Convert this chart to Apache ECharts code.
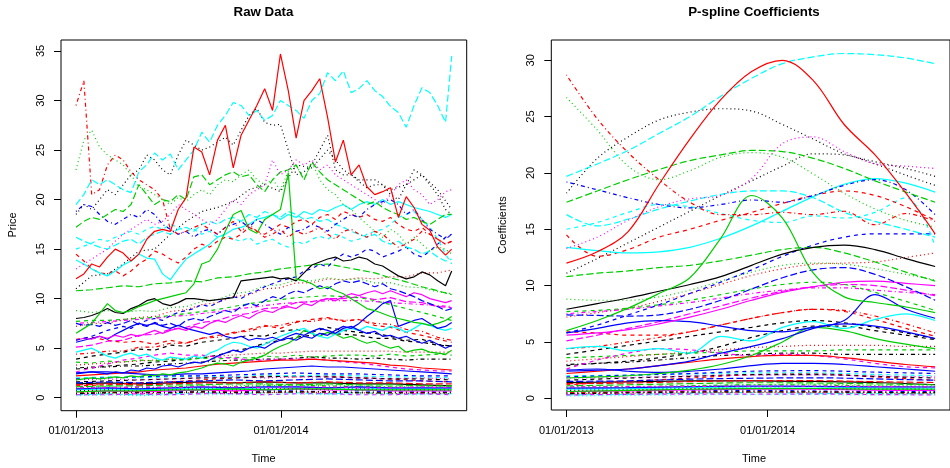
<!DOCTYPE html>
<html>
<head>
<meta charset="utf-8">
<script src="https://cdn.jsdelivr.net/npm/echarts@6/dist/echarts.min.js"></script>
<style>html,body{margin:0;padding:0;background:#fff}#c{width:950px;height:468px}</style>
</head>
<body>
<div id="c"></div>
<script>
// ---------- axes / ticks ----------
const tickDays = [0, 365];
const tickLabels = ['01/01/2013', '01/01/2014'];
const priceTicks = [0, 5, 10, 15, 20, 25, 30, 35];
const coefTicks = [0, 5, 10, 15, 20, 25, 30];

// ---------- x positions (days since 01/01/2013) ----------
const rawDaysFine = [0,14,28,42,56,70,84,98,112,126,140,154,168,182,196,210,224,238,252,266,280,294,308,322,336,350,364,378,392,406,420,434,448,462,476,490,504,518,532,546,560,574,588,602,616,630,644,658,669];
const rawDays25 = [0,28,56,84,112,140,168,196,224,252,280,308,336,364,392,420,448,476,504,532,560,588,616,644,669];
const splDays = [0,56,112,168,224,280,336,392,448,504,560,616,669];
const splDays7 = [0,112,224,336,448,560,669];

// ---------- raw prices (fine) ----------
const rawRedSolid = [12.0,12.5,13.5,13.2,14.2,15.0,14.6,13.8,14.5,16.0,16.8,17.0,16.8,19.0,20.2,25.3,24.8,22.5,26.0,27.5,23.2,26.5,28.0,29.5,31.2,29.0,34.7,31.0,26.2,30.0,31.0,32.2,28.3,23.8,26.0,22.5,23.5,21.3,20.5,20.8,21.2,18.2,20.3,19.2,17.5,16.9,15.2,14.4,15.0];
const rawCyanLong = [19.5,20.5,22.0,21.5,22.0,21.5,21.0,20.7,22.8,23.5,24.7,24.0,24.6,23.0,24.0,25.0,26.8,25.8,27.5,28.5,29.8,29.5,28.5,29.0,28.0,28.5,30.0,29.5,29.0,28.2,30.0,30.7,32.8,32.0,33.0,30.8,31.2,32.0,31.0,30.4,29.4,28.8,27.3,29.5,31.3,30.8,29.5,27.8,34.5];
const rawRedDotdash = [29.5,32.0,20.5,21.0,23.5,24.5,24.0,22.8,22.0,21.5,21.0,20.0,17.0,16.5,16.8,17.2,17.5,17.0,16.5,17.2,17.8,16.8,17.5,16.8,16.2,16.5,17.0,16.2,16.8,16.5,16.8,17.2,16.5,16.0,16.8,17.0,16.5,16.2,16.8,16.5,15.8,15.2,15.5,16.0,16.8,16.5,16.0,15.5,15.8];
const rawGreenDot = [23.0,26.0,27.0,25.3,24.5,24.0,23.5,22.5,21.3,21.0,20.5,20.0,19.5,20.2,19.8,20.5,21.0,20.5,21.5,22.0,21.8,22.5,23.0,22.0,21.5,22.0,21.0,22.8,23.5,22.0,23.8,22.0,21.0,20.5,19.5,19.0,18.2,17.5,16.8,16.2,17.0,16.5,15.5,16.2,15.5,14.8,15.2,15.0,14.5];
const rawBlackDotA = [18.5,19.5,19.0,20.0,21.0,20.5,21.5,22.5,23.0,24.5,24.0,23.0,22.5,24.5,26.0,25.5,25.0,25.3,25.8,26.3,25.5,27.0,28.5,29.2,27.8,27.5,27.6,25.0,22.5,22.8,23.5,25.0,26.5,23.0,22.5,22.5,21.8,21.2,21.5,21.5,20.5,20.0,21.5,23.0,22.5,21.5,20.5,19.0,18.5];
const rawMagDot = [13.0,13.5,14.0,14.5,15.0,15.8,16.5,17.0,17.5,18.0,17.5,17.8,18.5,19.5,19.0,18.5,18.0,17.5,18.0,19.0,20.0,19.5,20.5,21.0,21.5,24.0,22.5,23.0,24.0,23.5,24.0,23.0,23.5,22.5,22.0,21.5,21.0,20.5,20.0,19.5,20.5,21.5,22.0,21.0,20.5,19.5,20.0,20.8,21.0];
const rawGreenLong = [17.2,17.8,18.2,18.0,18.5,19.0,18.8,19.5,21.5,20.5,19.5,20.0,19.8,20.5,20.0,22.3,22.5,21.5,22.0,22.5,22.8,22.3,22.5,21.5,20.8,22.0,22.8,23.0,23.5,22.0,23.8,22.8,22.0,21.5,21.0,20.5,20.0,19.5,19.8,19.2,18.8,18.5,18.0,18.2,17.8,17.5,18.0,18.5,18.5];
const rawBlueDotdash = [18.8,19.5,19.3,18.5,17.8,17.5,18.0,18.5,18.2,19.0,18.5,17.5,17.0,16.5,16.8,16.2,16.8,17.0,16.5,17.2,17.5,17.8,17.2,18.0,17.5,17.0,16.5,17.2,16.8,17.0,17.5,17.2,16.8,17.5,18.0,18.5,18.2,19.0,19.5,19.8,20.0,19.5,18.5,19.0,18.0,17.0,16.5,16.0,16.5];
const rawGreenSpike = [6.5,7.0,7.5,8.5,9.5,8.8,8.6,8.8,9.2,9.5,9.8,10.0,10.2,10.4,10.6,11.5,13.5,13.8,15.0,16.8,18.5,18.9,17.0,16.6,18.0,18.5,19.0,22.7,12.0,11.8,11.5,11.0,11.2,10.8,10.5,10.0,9.5,9.0,8.8,8.5,8.2,8.0,7.8,7.6,7.5,7.3,7.5,7.8,8.2];
const rawBlackSolid = [8.0,8.1,8.3,8.6,9.0,8.6,8.5,9.0,9.3,9.8,10.0,9.5,9.3,9.6,10.0,10.0,9.9,9.8,9.9,10.0,10.1,11.8,11.9,12.0,12.1,12.2,12.0,12.1,11.8,12.6,13.4,13.7,14.0,14.2,13.8,13.9,14.2,14.0,13.5,13.3,12.8,12.3,12.0,12.2,12.7,12.4,11.8,11.3,12.8];
const rawCyanSolidB = [13.9,13.5,13.0,12.6,12.3,12.8,13.4,13.8,14.5,14.1,14.0,12.5,11.9,13.0,14.0,14.5,15.0,15.5,16.2,16.5,17.0,17.2,17.5,18.0,18.2,18.5,18.0,18.5,18.2,18.8,18.5,19.0,18.8,19.2,19.5,19.0,19.5,19.8,19.5,20.0,19.5,19.8,19.5,19.2,19.0,18.8,18.5,18.2,18.5];
const rawCyanLongB = [16.2,15.8,15.5,15.2,15.0,15.4,15.8,16.0,15.5,16.2,16.5,16.8,16.5,17.0,17.2,16.8,17.5,17.8,17.5,18.0,18.2,17.8,18.5,18.2,18.8,18.5,18.2,18.8,18.5,18.0,18.2,17.8,18.0,17.5,17.2,16.8,16.5,16.2,16.5,15.8,15.5,15.8,15.2,15.0,14.5,14.8,14.2,13.8,14.0];
const rawRedDashWavy = [14.5,13.8,13.0,12.6,12.5,12.8,12.3,12.8,13.5,14.0,14.8,14.5,14.0,13.6,14.2,15.0,15.5,15.2,15.8,16.2,16.0,16.5,17.2,16.8,16.5,17.0,17.5,17.2,17.8,18.0,17.5,18.2,18.5,18.0,18.8,18.5,18.2,18.5,18.0,17.8,18.2,17.5,17.0,16.8,17.2,16.5,16.0,15.5,15.8];
const rawCyanDashWavy = [15.0,15.3,15.6,16.0,15.8,16.2,16.5,16.8,16.5,17.0,17.3,17.0,17.5,17.2,16.8,17.0,16.5,16.8,16.2,16.5,16.0,15.8,16.2,15.5,15.8,16.0,15.5,15.2,15.8,15.5,16.0,16.3,16.0,16.5,16.2,15.8,16.0,16.5,16.8,17.0,17.5,18.2,18.5,18.8,18.0,17.2,16.0,14.5,13.5];
const rawBlueDashB = [5.8,6.0,6.2,6.5,6.8,7.0,7.2,7.0,7.5,7.8,8.0,7.8,8.3,8.6,8.8,9.0,9.4,9.2,9.6,10.0,10.2,10.0,10.5,10.8,11.2,11.5,11.8,12.0,12.2,12.8,13.0,13.5,13.2,14.0,14.5,14.2,14.5,15.0,14.8,14.2,14.5,14.8,15.2,14.5,14.2,14.8,15.5,16.2,16.5];
const rawBlueLong = [7.5,7.3,7.4,7.2,7.6,7.3,7.5,7.8,7.4,7.2,7.6,7.3,7.5,7.2,7.8,8.0,7.8,8.2,8.5,8.8,8.6,9.2,9.5,9.3,9.8,10.2,10.0,10.5,10.8,10.6,11.0,11.3,11.0,11.5,11.8,11.6,11.8,11.5,11.2,11.5,11.0,10.8,10.5,10.2,9.8,9.5,9.2,8.8,9.0];
const rawMagSolid = [5.8,6.0,5.9,6.2,6.0,6.3,6.1,6.4,6.2,6.5,6.8,6.5,6.8,7.0,6.8,7.2,7.0,7.5,7.8,7.6,8.0,8.3,8.0,8.5,8.8,8.6,9.0,9.2,9.0,9.5,9.3,9.8,10.0,9.8,10.2,10.5,10.3,10.6,10.8,10.5,10.8,10.5,10.2,10.6,10.4,10.0,9.8,9.6,9.8];
const rawBlueSolidHump = [5.6,5.8,6.0,6.2,5.9,6.4,6.8,7.2,7.5,7.3,7.5,7.2,7.0,7.3,7.0,6.8,6.6,6.4,6.6,6.2,6.0,6.2,5.8,6.0,5.9,6.1,5.8,6.2,6.5,6.3,6.7,7.0,6.8,6.5,7.0,7.2,6.8,6.5,6.7,6.2,6.3,6.0,6.2,5.8,5.5,5.8,5.4,5.0,5.3];
const rawBlueSolidBump = [2.4,2.5,2.6,2.5,2.4,2.6,2.5,2.8,2.7,3.0,2.9,3.2,3.3,3.1,3.4,3.6,3.5,3.8,4.2,4.5,4.8,4.6,5.0,5.2,5.0,5.5,5.8,6.0,5.8,6.2,6.0,6.5,6.3,6.8,7.2,7.0,7.5,8.2,8.8,9.5,9.8,7.2,7.5,7.8,8.0,7.5,7.0,7.2,7.6];
const rawCyanSolidWavy = [4.6,4.8,5.0,4.6,4.2,4.0,4.3,4.5,4.2,4.4,4.0,3.8,4.1,4.0,3.9,4.2,4.0,4.5,4.8,5.3,5.6,5.5,5.2,5.0,5.4,5.8,6.2,6.5,6.8,7.0,6.5,6.2,6.0,6.4,6.8,7.0,6.8,7.2,7.0,6.8,7.2,7.0,6.6,7.0,7.5,7.3,7.0,6.8,7.0];
const rawGreenSolidLow = [1.8,1.9,2.0,1.9,2.0,2.1,2.0,2.2,2.1,2.3,2.2,2.4,2.3,2.5,2.6,2.8,3.0,3.3,3.5,3.4,3.2,3.6,3.8,4.0,4.3,4.8,5.2,5.5,6.0,6.8,6.5,6.2,6.6,6.4,6.0,6.2,5.8,5.5,5.7,5.3,5.0,5.2,4.6,4.8,4.9,4.6,4.5,4.4,4.8];

// ---------- raw prices (medium resolution) ----------
const rawBlackDotB = [11.0,12.3,12.5,13.5,14.8,15.0,16.5,17.8,18.8,19.2,19.8,21.0,21.5,20.8,23.5,23.2,25.0,23.0,22.0,22.0,21.0,21.5,22.5,21.0,19.0];
const rawRedDash2 = [5.9,6.1,5.8,5.6,5.7,5.4,5.8,5.5,6.0,6.3,6.5,6.9,7.3,7.0,7.6,7.9,8.1,7.7,7.9,7.3,7.1,6.6,6.3,5.9,5.6];
const rawBlackDashA = [3.9,4.2,4.4,4.6,4.9,4.8,5.3,5.2,5.6,5.8,6.0,6.3,6.2,6.7,6.9,6.6,7.1,6.8,6.6,6.5,6.2,5.8,5.9,5.4,5.2];
const rawBlackDashB = [2.9,3.0,3.2,3.3,3.4,3.6,3.7,3.9,4.0,4.3,4.7,5.0,5.5,5.8,6.1,6.3,6.5,6.4,6.3,6.0,6.0,5.7,5.6,5.3,5.2];
const rawMagLong = [5.1,5.3,5.7,5.8,6.3,6.4,6.9,7.1,7.6,7.8,8.3,8.5,9.0,9.1,9.6,9.7,10.0,10.0,10.2,9.9,10.1,9.7,9.6,9.2,9.1];
const rawRedDot = [7.2,7.5,7.5,7.9,8.1,8.2,8.7,8.9,9.4,9.6,10.2,10.4,11.0,11.1,11.6,11.6,12.0,11.9,12.1,12.0,12.2,12.2,12.6,12.6,12.9];
const rawGreenDot2 = [8.8,8.6,8.8,8.6,8.8,8.7,9.1,9.2,9.7,9.9,10.5,10.7,11.3,11.4,11.9,11.8,12.1,11.9,12.0,11.6,11.6,11.2,11.1,10.7,10.5];
const rawRedDotdash2 = [4.4,4.5,4.7,4.7,5.1,5.1,5.5,5.5,6.0,6.1,6.6,6.7,7.2,7.3,7.7,7.7,8.0,7.8,7.9,7.5,7.4,6.9,6.7,6.1,5.8];
const rawGreenDash = [3.6,3.5,3.7,3.6,3.8,3.7,3.9,3.8,4.0,3.9,4.1,4.0,4.2,4.1,4.3,4.1,4.2,4.3,4.3,4.2,4.4,4.2,4.3,4.4,4.3];
const rawBlackDotdash = [3.0,3.1,3.1,3.2,3.2,3.3,3.4,3.5,3.6,3.7,3.8,3.8,3.9,3.9,4.0,4.1,4.0,4.0,3.9,4.0,3.9,3.8,3.9,3.9,3.9];
const rawMagDash = [2.6,3.0,3.4,3.8,4.0,4.3,4.5,4.3,4.3,4.1,4.0,3.8,3.8,3.9,3.9,3.9,3.8,3.6,3.5,3.3,3.1,2.9,2.8,2.7,2.7];
const rawRedSolidLow = [2.2,2.3,2.4,2.5,2.6,2.8,2.9,3.0,3.2,3.4,3.5,3.6,3.7,3.8,3.8,3.9,3.8,3.7,3.6,3.5,3.3,3.2,3.0,2.9,2.8];
const rawBlueSolidLow = [2.5,2.6,2.6,2.5,2.4,2.3,2.3,2.4,2.4,2.5,2.6,2.7,2.9,3.0,3.1,3.2,3.1,3.1,3.0,2.9,2.8,2.7,2.6,2.5,2.4];
const rawGreenLong2 = [10.8,10.9,11.1,11.3,11.2,11.5,11.6,11.8,11.7,12.1,12.2,12.5,12.7,13.0,13.2,13.4,13.5,13.2,12.9,12.6,12.1,11.7,11.2,10.8,10.4];
const rawRedDot2 = [3.3,3.4,3.5,3.6,3.7,3.8,3.9,4.0,4.1,4.2,4.3,4.4,4.5,4.5,4.6,4.7,4.7,4.7,4.7,4.7,4.7,4.6,4.6,4.6,4.6];
const rawGreenDash2 = [7.7,7.8,7.8,7.9,8.0,8.1,8.3,8.5,8.7,8.9,9.2,9.5,9.7,9.9,10.1,10.2,10.3,10.2,10.1,9.8,9.4,9.0,8.6,8.2,7.8];
const rawMagDotdash = [7.5,7.6,7.7,7.8,7.9,8.0,8.2,8.3,8.5,8.7,8.9,9.1,9.3,9.5,9.6,9.7,9.8,9.8,9.8,9.7,9.6,9.5,9.4,9.3,9.2];

// ---------- P-spline coefficients ----------
const splRedSolid = [12.0,13.0,14.8,19.0,23.0,26.5,29.0,30.0,28.2,24.3,21.6,18.2,14.6];
const splCyanLong = [19.7,20.8,22.0,23.5,25.0,26.8,28.4,29.7,30.3,30.6,30.5,30.2,29.7];
const splRedDotdash = [28.7,24.8,21.8,19.4,17.4,16.3,16.3,16.5,16.3,16.6,15.4,16.4,15.7];
const splGreenDot = [26.7,23.8,20.6,19.4,20.2,21.4,21.8,21.4,19.9,18.2,16.8,15.8,15.2];
const splBlackDotA = [18.2,21.3,23.2,24.7,25.4,25.7,25.5,24.3,23.0,21.7,21.0,20.4,19.7];
const splMagDot = [13.3,14.3,15.8,17.0,17.7,18.0,19.5,22.6,23.2,21.9,20.8,20.6,20.4];
const splGreenLong = [17.4,18.4,19.4,20.3,21.1,21.6,22.0,21.9,21.3,20.4,19.3,18.3,17.4];
const splBlueDotdash = [19.2,18.5,17.8,17.2,16.9,17.2,17.6,17.4,18.0,18.9,19.4,18.5,16.3];
const splGreenSpike = [6.0,6.9,8.0,9.3,10.7,14.2,18.0,16.0,11.1,9.0,8.5,8.1,7.6];
const splBlackSolid = [7.9,8.4,8.9,9.5,10.1,10.8,11.8,12.8,13.4,13.6,13.2,12.4,11.7];
const splCyanSolidB = [13.4,13.1,12.9,13.0,13.4,14.2,15.3,16.6,17.9,19.0,19.5,19.1,18.3];
const splCyanLongB = [16.3,15.3,15.9,16.8,17.5,18.1,18.4,18.4,17.8,16.5,15.7,15.0,14.3];
const splRedDashWavy = [14.5,12.6,13.2,14.3,15.0,15.8,16.5,17.3,18.0,18.4,18.0,17.0,15.8];
const splCyanDashWavy = [15.0,15.6,16.5,17.2,17.0,16.4,15.8,15.6,16.2,16.0,16.5,17.8,13.5];
const splBlueDashB = [5.8,6.5,7.4,8.3,9.3,10.3,11.4,12.6,13.6,14.3,14.6,14.6,14.6];
const splBlueLong = [7.4,7.35,7.3,7.4,7.9,8.7,9.7,10.7,11.4,11.6,11.0,9.9,8.7];
const splMagSolid = [5.6,5.8,6.1,6.6,7.2,7.9,8.7,9.4,9.9,10.3,10.4,10.2,10.0];
const splBlueSolidHump = [5.8,6.2,6.7,6.9,6.8,6.4,6.0,5.9,6.3,6.6,6.4,5.9,5.3];
const splBlueSolidBump = [2.4,2.5,2.6,2.9,3.3,4.0,4.6,5.3,6.2,6.9,9.2,7.9,7.1];
const splCyanSolidWavy = [4.4,4.6,4.2,4.4,4.0,5.5,5.1,6.3,6.8,6.2,7.0,7.5,6.9];
const splGreenSolidLow = [1.8,1.9,2.0,2.2,2.5,3.0,3.8,5.0,6.3,6.0,5.3,4.8,4.4];
const splBlackDotB = [11.1,12.4,13.8,15.2,16.6,18.0,19.3,20.6,21.7,21.6,20.8,19.8,18.9];
const splRedDash2 = [5.9,5.8,5.6,5.6,5.9,6.5,7.1,7.6,7.9,7.7,7.0,6.2,5.5];
const splBlackDashA = [3.9,4.3,4.7,5.1,5.5,5.9,6.3,6.7,6.9,6.7,6.3,5.8,5.3];
const splBlackDashB = [2.9,3.1,3.3,3.6,4.0,4.6,5.4,6.0,6.4,6.4,6.0,5.6,5.2];
const splMagLong = [5.1,5.6,6.2,6.8,7.5,8.2,8.9,9.5,9.9,10.1,10.0,9.6,9.1];
const splRedDot = [7.2,7.6,8.0,8.6,9.3,10.1,10.9,11.5,11.9,12.0,12.1,12.5,12.9];
const splGreenDot2 = [8.8,8.7,8.7,9.0,9.6,10.4,11.2,11.8,12.0,11.9,11.5,11.0,10.5];
const splRedDotdash2 = [4.4,4.6,5.0,5.4,5.9,6.5,7.1,7.6,7.9,7.8,7.3,6.6,5.8];
const splGreenDash = [3.6,3.7,3.8,3.9,4.0,4.1,4.2,4.2,4.2,4.3,4.3,4.3,4.3];
const splBlackDotdash = [3.0,3.1,3.2,3.4,3.6,3.8,3.9,4.0,4.0,3.9,3.9,3.9,3.9];
const splMagDash = [2.6,3.4,4.0,4.4,4.3,4.0,3.8,3.9,3.8,3.5,3.1,2.8,2.7];
const splRedSolidLow = [2.2,2.4,2.6,2.9,3.2,3.5,3.7,3.8,3.8,3.6,3.3,3.0,2.8];
const splBlueSolidLow = [2.5,2.6,2.4,2.3,2.4,2.6,2.9,3.1,3.1,3.0,2.8,2.6,2.4];
const splGreenLong2 = [10.8,11.1,11.3,11.6,11.8,12.2,12.7,13.2,13.4,12.9,12.1,11.2,10.4];
const splRedDot2 = [3.3,3.5,3.7,3.9,4.1,4.3,4.5,4.6,4.7,4.7,4.7,4.6,4.6];
const splGreenDash2 = [7.7,7.8,8.0,8.3,8.7,9.2,9.7,10.1,10.3,10.1,9.4,8.6,7.8];
const splMagDotdash = [7.5,7.7,7.9,8.2,8.5,8.9,9.3,9.6,9.8,9.8,9.6,9.4,9.2];

// ---------- low band: raw (13 pts) and spline (7 pts) ----------
const lowRaw01 = [1.4,1.5,1.4,1.5,1.6,1.5,1.6,1.5,1.5,1.4,1.4,1.3,1.2];
const lowRaw02 = [1.2,1.3,1.5,1.6,1.8,2.0,2.2,2.1,2.2,2.0,1.9,1.7,1.6];
const lowRaw03 = [0.9,1.0,0.9,1.1,1.0,1.2,1.3,1.2,1.3,1.2,1.1,1.2,1.1];
const lowRaw04 = [0.5,0.6,0.5,0.6,0.7,0.6,0.7,0.7,0.6,0.7,0.6,0.6,0.6];
const lowRaw05 = [0.3,0.4,0.3,0.4,0.5,0.4,0.5,0.5,0.4,0.5,0.4,0.4,0.4];
const lowRaw06 = [0.6,0.7,0.6,0.7,0.8,0.7,0.8,0.9,0.8,0.8,0.7,0.7,0.7];
const lowRaw07 = [1.6,1.7,1.8,1.9,2.0,2.0,2.1,2.2,2.1,2.0,1.9,1.9,1.8];
const lowRaw08 = [0.4,0.5,0.4,0.5,0.5,0.4,0.5,0.6,0.5,0.5,0.4,0.5,0.4];
const lowRaw09 = [1.0,1.1,1.0,1.1,1.2,1.1,1.2,1.3,1.2,1.1,1.1,1.0,1.0];
const lowRaw10 = [1.5,1.6,1.5,1.6,1.7,1.8,1.7,1.8,1.9,1.8,1.7,1.7,1.6];
const lowRaw11 = [0.8,0.9,0.8,0.9,1.0,0.9,1.0,1.1,1.0,1.0,0.9,0.9,0.9];
const lowRaw12 = [0.3,0.3,0.4,0.3,0.4,0.4,0.3,0.4,0.4,0.3,0.3,0.4,0.3];
const lowRaw13 = [0.7,0.8,0.7,0.8,0.9,0.8,0.9,0.9,0.8,0.9,0.8,0.8,0.8];
const lowRaw14 = [0.5,0.5,0.6,0.5,0.6,0.6,0.5,0.6,0.6,0.5,0.5,0.5,0.5];
const lowRaw15 = [1.1,1.2,1.2,1.3,1.3,1.4,1.4,1.3,1.4,1.3,1.3,1.2,1.2];
const lowRaw16 = [0.9,1.0,0.9,1.0,1.1,1.0,1.1,1.1,1.0,1.1,1.0,1.0,1.0];
const lowRaw17 = [2.0,2.1,2.0,2.1,2.2,2.1,2.3,2.2,2.3,2.2,2.1,2.1,2.0];
const lowRaw18 = [1.8,1.9,1.8,1.9,2.0,2.1,2.0,2.1,2.1,2.0,1.9,2.0,1.9];
const lowRaw19 = [0.4,0.5,0.5,0.5,0.6,0.5,0.6,0.6,0.6,0.5,0.5,0.5,0.5];
const lowRaw20 = [1.3,1.4,1.3,1.4,1.5,1.5,1.6,1.5,1.6,1.5,1.5,1.4,1.4];
const lowRaw21 = [0.6,0.7,0.7,0.8,0.8,0.9,0.8,0.9,0.9,0.8,0.8,0.8,0.8];
const lowRaw22 = [1.9,2.0,2.1,2.2,2.2,2.3,2.4,2.5,2.4,2.4,2.3,2.2,2.2];
const lowRaw23 = [0.2,0.3,0.2,0.3,0.3,0.3,0.3,0.4,0.3,0.3,0.3,0.3,0.3];
const lowRaw24 = [1.0,1.0,1.1,1.0,1.1,1.1,1.0,1.1,1.1,1.0,1.0,1.1,1.0];
const lowSpl01 = [1.4,1.45,1.55,1.55,1.5,1.4,1.2];
const lowSpl02 = [1.2,1.5,1.8,2.1,2.2,1.9,1.6];
const lowSpl03 = [0.9,0.95,1.05,1.2,1.25,1.15,1.1];
const lowSpl04 = [0.5,0.55,0.65,0.7,0.65,0.6,0.6];
const lowSpl05 = [0.3,0.35,0.45,0.5,0.45,0.42,0.4];
const lowSpl06 = [0.6,0.65,0.75,0.82,0.82,0.72,0.7];
const lowSpl07 = [1.6,1.8,1.95,2.1,2.1,1.95,1.8];
const lowSpl08 = [0.4,0.45,0.47,0.52,0.5,0.45,0.4];
const lowSpl09 = [1.0,1.05,1.12,1.2,1.18,1.08,1.0];
const lowSpl10 = [1.5,1.55,1.7,1.78,1.82,1.72,1.6];
const lowSpl11 = [0.8,0.85,0.95,1.02,1.02,0.92,0.9];
const lowSpl12 = [0.3,0.35,0.37,0.36,0.37,0.33,0.3];
const lowSpl13 = [0.7,0.75,0.85,0.88,0.86,0.82,0.8];
const lowSpl14 = [0.5,0.55,0.57,0.56,0.57,0.52,0.5];
const lowSpl15 = [1.1,1.2,1.3,1.38,1.36,1.28,1.2];
const lowSpl16 = [0.9,0.95,1.03,1.08,1.06,1.02,1.0];
const lowSpl17 = [2.0,2.05,2.15,2.25,2.25,2.12,2.0];
const lowSpl18 = [1.8,1.85,1.98,2.05,2.08,1.97,1.9];
const lowSpl19 = [0.4,0.48,0.55,0.58,0.57,0.52,0.5];
const lowSpl20 = [1.3,1.35,1.48,1.56,1.56,1.47,1.4];
const lowSpl21 = [0.6,0.7,0.8,0.85,0.87,0.82,0.8];
const lowSpl22 = [1.9,2.05,2.2,2.4,2.45,2.32,2.2];
const lowSpl23 = [0.2,0.25,0.3,0.33,0.32,0.3,0.3];
const lowSpl24 = [1.0,1.03,1.06,1.07,1.07,1.04,1.0];

// ---------- styles ----------
const palette = {black:'#000000', red:'#FF0000', green:'#00CD00', blue:'#0000FF', cyan:'#00FFFF', magenta:'#FF00FF'};
const dashes = {solid:'solid', dashed:[4,4], dotted:[1,3], dotdash:[1,3,4,3], longdash:[7,3]};

// [colour, line type, raw x, raw y, spline x, spline y]  (draw order: first = bottom)
const lines = [
  ['black','solid',splDays,lowRaw01,splDays7,lowSpl01],
  ['red','dashed',splDays,lowRaw02,splDays7,lowSpl02],
  ['green','dotted',splDays,lowRaw03,splDays7,lowSpl03],
  ['blue','dotdash',splDays,lowRaw04,splDays7,lowSpl04],
  ['cyan','longdash',splDays,lowRaw05,splDays7,lowSpl05],
  ['magenta','solid',splDays,lowRaw06,splDays7,lowSpl06],
  ['black','dashed',splDays,lowRaw07,splDays7,lowSpl07],
  ['red','dotted',splDays,lowRaw08,splDays7,lowSpl08],
  ['green','dotdash',splDays,lowRaw09,splDays7,lowSpl09],
  ['blue','longdash',splDays,lowRaw10,splDays7,lowSpl10],
  ['cyan','solid',splDays,lowRaw11,splDays7,lowSpl11],
  ['magenta','dashed',splDays,lowRaw12,splDays7,lowSpl12],
  ['black','dotted',splDays,lowRaw13,splDays7,lowSpl13],
  ['red','dotdash',splDays,lowRaw14,splDays7,lowSpl14],
  ['green','longdash',splDays,lowRaw15,splDays7,lowSpl15],
  ['blue','solid',splDays,lowRaw16,splDays7,lowSpl16],
  ['cyan','dashed',splDays,lowRaw17,splDays7,lowSpl17],
  ['magenta','dotted',splDays,lowRaw18,splDays7,lowSpl18],
  ['black','dotdash',splDays,lowRaw19,splDays7,lowSpl19],
  ['red','longdash',splDays,lowRaw20,splDays7,lowSpl20],
  ['green','solid',splDays,lowRaw21,splDays7,lowSpl21],
  ['blue','dashed',splDays,lowRaw22,splDays7,lowSpl22],
  ['cyan','dotted',splDays,lowRaw23,splDays7,lowSpl23],
  ['magenta','dotdash',splDays,lowRaw24,splDays7,lowSpl24],
  ['black','dotted',rawDays25,rawBlackDotB,splDays,splBlackDotB],
  ['red','dashed',rawDays25,rawRedDash2,splDays,splRedDash2],
  ['black','dashed',rawDays25,rawBlackDashA,splDays,splBlackDashA],
  ['black','dashed',rawDays25,rawBlackDashB,splDays,splBlackDashB],
  ['magenta','longdash',rawDays25,rawMagLong,splDays,splMagLong],
  ['red','dotted',rawDays25,rawRedDot,splDays,splRedDot],
  ['green','dotted',rawDays25,rawGreenDot2,splDays,splGreenDot2],
  ['red','dotdash',rawDays25,rawRedDotdash2,splDays,splRedDotdash2],
  ['green','dashed',rawDays25,rawGreenDash,splDays,splGreenDash],
  ['black','dotdash',rawDays25,rawBlackDotdash,splDays,splBlackDotdash],
  ['magenta','dashed',rawDays25,rawMagDash,splDays,splMagDash],
  ['red','solid',rawDays25,rawRedSolidLow,splDays,splRedSolidLow],
  ['blue','solid',rawDays25,rawBlueSolidLow,splDays,splBlueSolidLow],
  ['green','longdash',rawDays25,rawGreenLong2,splDays,splGreenLong2],
  ['red','dotted',rawDays25,rawRedDot2,splDays,splRedDot2],
  ['green','dashed',rawDays25,rawGreenDash2,splDays,splGreenDash2],
  ['magenta','dotdash',rawDays25,rawMagDotdash,splDays,splMagDotdash],
  ['green','solid',rawDaysFine,rawGreenSolidLow,splDays,splGreenSolidLow],
  ['cyan','solid',rawDaysFine,rawCyanSolidWavy,splDays,splCyanSolidWavy],
  ['blue','solid',rawDaysFine,rawBlueSolidBump,splDays,splBlueSolidBump],
  ['blue','solid',rawDaysFine,rawBlueSolidHump,splDays,splBlueSolidHump],
  ['magenta','solid',rawDaysFine,rawMagSolid,splDays,splMagSolid],
  ['blue','longdash',rawDaysFine,rawBlueLong,splDays,splBlueLong],
  ['blue','dashed',rawDaysFine,rawBlueDashB,splDays,splBlueDashB],
  ['cyan','dashed',rawDaysFine,rawCyanDashWavy,splDays,splCyanDashWavy],
  ['red','dashed',rawDaysFine,rawRedDashWavy,splDays,splRedDashWavy],
  ['cyan','longdash',rawDaysFine,rawCyanLongB,splDays,splCyanLongB],
  ['cyan','solid',rawDaysFine,rawCyanSolidB,splDays,splCyanSolidB],
  ['black','solid',rawDaysFine,rawBlackSolid,splDays,splBlackSolid],
  ['green','solid',rawDaysFine,rawGreenSpike,splDays,splGreenSpike],
  ['blue','dotdash',rawDaysFine,rawBlueDotdash,splDays,splBlueDotdash],
  ['green','longdash',rawDaysFine,rawGreenLong,splDays,splGreenLong],
  ['magenta','dotted',rawDaysFine,rawMagDot,splDays,splMagDot],
  ['black','dotted',rawDaysFine,rawBlackDotA,splDays,splBlackDotA],
  ['green','dotted',rawDaysFine,rawGreenDot,splDays,splGreenDot],
  ['red','dotdash',rawDaysFine,rawRedDotdash,splDays,splRedDotdash],
  ['cyan','longdash',rawDaysFine,rawCyanLong,splDays,splCyanLong],
  ['red','solid',rawDaysFine,rawRedSolid,splDays,splRedSolid]
];

const FONT = '"Liberation Sans", Arial, Helvetica, sans-serif';
const pairs = (xs, ys) => xs.map((d, i) => [d, ys[i]]);

const series = [];
lines.forEach(([col, lty, rx, ry, sx, sy]) => {
  const ls = {color: palette[col], width: 1.2, type: dashes[lty], cap: 'butt'};
  series.push({type:'line', xAxisIndex:0, yAxisIndex:0, data:pairs(rx, ry), showSymbol:false, symbol:'none', silent:true, lineStyle:ls, z:2});
  series.push({type:'line', xAxisIndex:1, yAxisIndex:1, data:pairs(sx, sy), showSymbol:false, symbol:'none', silent:true, smooth:0.35, lineStyle:ls, z:2});
});

function xAxisCfg(grid, min, max) {
  return {
    gridIndex: grid, type: 'value', position: 'bottom', min: min, max: max,
    axisLine: {show: false, onZero: false}, splitLine: {show: false},
    axisTick: {show: true, inside: false, length: 7, customValues: tickDays, lineStyle: {color: '#000', width: 1}},
    axisLabel: {customValues: tickDays, formatter: v => tickLabels[tickDays.indexOf(v)], margin: 15,
      color: '#000', fontSize: 11, fontFamily: FONT}
  };
}
function yAxisCfg(grid, min, max, ticks) {
  return {
    gridIndex: grid, type: 'value', position: 'left', min: min, max: max,
    axisLine: {show: false, onZero: false}, splitLine: {show: false},
    axisTick: {show: true, inside: false, length: 7, customValues: ticks, lineStyle: {color: '#000', width: 1}},
    axisLabel: {customValues: ticks, rotate: 90, align: 'center', verticalAlign: 'bottom', margin: 15,
      color: '#000', fontSize: 11, fontFamily: FONT}
  };
}

const chart = echarts.init(document.getElementById('c'), null, {renderer: 'canvas'});
chart.setOption({
  animation: false,
  backgroundColor: '#ffffff',
  grid: [
    {left: 61, top: 40, width: 405.7, height: 370.7, show: true, borderColor: '#000', borderWidth: 1, backgroundColor: 'transparent', containLabel: false},
    {left: 551.3, top: 40, width: 405.5, height: 370, show: true, borderColor: '#000', borderWidth: 1, backgroundColor: 'transparent', containLabel: false}
  ],
  xAxis: [xAxisCfg(0, -26.7, 695.7), xAxisCfg(1, -27.5, 696.0)],
  yAxis: [yAxisCfg(0, -1.31, 36.11, priceTicks), yAxisCfg(1, -1.04, 31.8, coefTicks)],
  graphic: [
    {type:'text', x:263.5, y:12, style:{text:'Raw Data', font:'bold 13.3px ' + FONT, fill:'#000', align:'center', verticalAlign:'middle'}},
    {type:'text', x:754, y:12, style:{text:'P-spline Coefficients', font:'bold 13.3px ' + FONT, fill:'#000', align:'center', verticalAlign:'middle'}},
    {type:'text', x:263.5, y:459, style:{text:'Time', font:'11px ' + FONT, fill:'#000', align:'center', verticalAlign:'middle'}},
    {type:'text', x:754, y:459, style:{text:'Time', font:'11px ' + FONT, fill:'#000', align:'center', verticalAlign:'middle'}},
    {type:'text', x:13, y:225, rotation:Math.PI/2, style:{text:'Price', font:'11px ' + FONT, fill:'#000', align:'center', verticalAlign:'middle'}},
    {type:'text', x:503.3, y:225, rotation:Math.PI/2, style:{text:'Coefficients', font:'11px ' + FONT, fill:'#000', align:'center', verticalAlign:'middle'}}
  ],
  series: series
});
</script>
</body>
</html>
